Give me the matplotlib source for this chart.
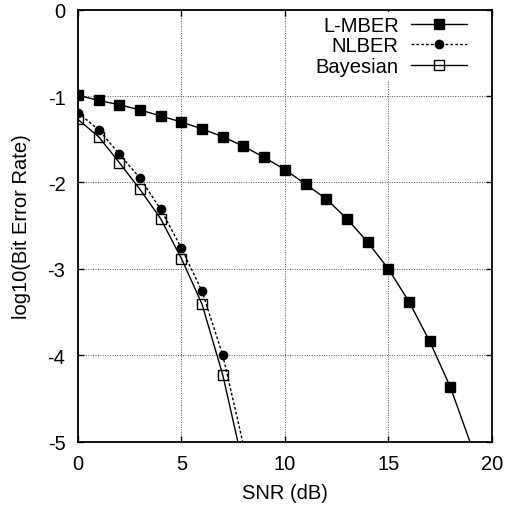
import matplotlib

matplotlib.use("Agg")
import matplotlib.pyplot as plt
from matplotlib.lines import Line2D

plt.rcParams["font.family"] = ["Liberation Sans", "DejaVu Sans"]
plt.rcParams["axes.unicode_minus"] = False

# ---- BER curves (log10) ---------------------------------------------
snr_lmber = [0, 1, 2, 3, 4, 5, 6, 7, 8, 9, 10, 11, 12, 13, 14, 15, 16, 17, 18, 19]
ber_lmber = [-0.99, -1.05, -1.10, -1.16, -1.23, -1.30, -1.38, -1.47, -1.58, -1.71,
             -1.85, -2.02, -2.19, -2.42, -2.69, -3.00, -3.38, -3.84, -4.37, -5.04]

snr_nlber = [0, 1, 2, 3, 4, 5, 6, 7, 8]
ber_nlber = [-1.19, -1.39, -1.67, -1.95, -2.31, -2.76, -3.26, -4.00, -5.04]

snr_bayes = [0, 1, 2, 3, 4, 5, 6, 7, 8]
ber_bayes = [-1.27, -1.47, -1.77, -2.08, -2.42, -2.88, -3.41, -4.23, -5.29]

YMIN, YMAX = -5, 0
FS = 14.5

# line/marker style per curve, shared by plot and legend
STYLE = {
    "L-MBER": dict(color="k", ls="-", marker="s", ms=6.5, mfc="k", mec="k"),
    "NLBER": dict(color="k", ls=(0, (2, 1.5)), marker="o", ms=6, mfc="k", mec="k"),
    "Bayesian": dict(color="k", ls="-", marker="s", ms=6.5, mfc="none", mec="k", mew=1.0),
}


def in_range(ys):
    return [i for i, y in enumerate(ys) if YMIN <= y <= YMAX]


fig = plt.figure(figsize=(5.06, 5.10), dpi=100)
ax = fig.add_axes([0.154, 0.132, 0.818, 0.847])

ax.plot(snr_lmber, ber_lmber, lw=1.0, markevery=in_range(ber_lmber), **STYLE["L-MBER"])
ax.plot(snr_nlber, ber_nlber, lw=1.0, markevery=in_range(ber_nlber), **STYLE["NLBER"])
ax.plot(snr_bayes, ber_bayes, lw=1.0, markevery=in_range(ber_bayes), **STYLE["Bayesian"])

ax.set_xlim(0, 20)
ax.set_ylim(YMIN, YMAX)
ax.set_xticks([0, 5, 10, 15, 20])
ax.set_yticks([-5, -4, -3, -2, -1, 0])
ax.tick_params(direction="in", length=4, width=1, top=True, right=True,
               labelsize=FS, pad=9)
ax.grid(color="#555555", ls=(0, (1, 1.5)), lw=0.7)
for sp in ax.spines.values():
    sp.set_linewidth(1.3)

ax.set_xlabel("SNR (dB)", fontsize=FS, labelpad=7)
ax.set_ylabel("log10(Bit Error Rate)", fontsize=FS, labelpad=12)

names = ["L-MBER", "NLBER", "Bayesian"]
handles = [Line2D([], [], lw=1.0, **STYLE[n]) for n in names]
leg = ax.legend(handles, names, loc="upper right",
                markerfirst=False, fontsize=FS, frameon=True, fancybox=False,
                framealpha=1, edgecolor="white", handlelength=2.8,
                labelspacing=0.08, borderaxespad=0.1, handletextpad=0.6,
                borderpad=0.2, bbox_to_anchor=(0.955, 1.0))
leg.get_frame().set_linewidth(0)

fig.savefig("out.png", dpi=100)
